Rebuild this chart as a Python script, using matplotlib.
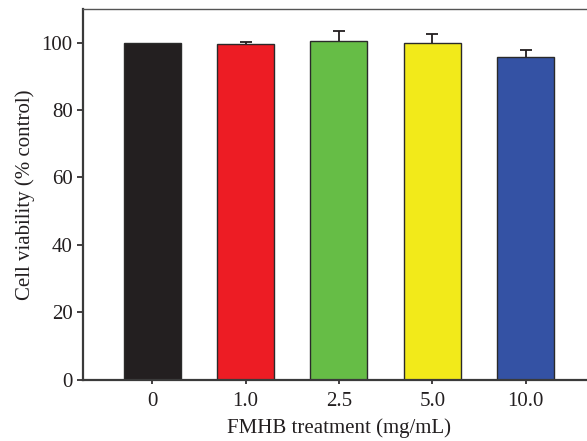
import matplotlib
matplotlib.use("Agg")
import matplotlib.pyplot as plt
import numpy as np

categories = ["0", "1.0", "2.5", "5.0", "10.0"]
viability = [100.0, 99.7, 100.5, 100.0, 95.8]
errors = [0.0, 0.5, 3.0, 2.4, 2.1]
colors = ["#231f20", "#ed1c24", "#66bd46", "#f2ea1a", "#3452a4"]

plt.rcParams["font.family"] = ["Liberation Serif", "DejaVu Serif"]

fig = plt.figure(figsize=(5.87, 4.41), dpi=100)
ax = fig.add_axes([0.1414, 0.139, 0.872, 0.841])

x = np.arange(len(categories))
ax.bar(x, viability, width=0.61, color=colors, edgecolor="#2a2a2a", linewidth=1.0, zorder=2)

# upper error bars only, skipping the control which has no spread
err = np.array(errors)
vals = np.array(viability)
has_err = err > 0
_, caps, _ = ax.errorbar(x[has_err], vals[has_err],
                         yerr=[np.zeros(has_err.sum()), err[has_err]], fmt="none",
                         ecolor="#231f20", elinewidth=1.3, capsize=4, capthick=1.3, zorder=3)
caps[0].set_visible(False)  # hide the zero-length lower caps

ax.set_xlim(-0.74, 4.74)
ax.set_ylim(0, 110)
ax.set_yticks([0, 20, 40, 60, 80, 100])
ax.set_xticks(x)
ax.set_xticklabels(categories)

ax.tick_params(axis="both", labelsize=15, colors="#231f20", direction="out", length=4, width=1.2)
ax.tick_params(axis="x", length=3, pad=6)

for side in ["left", "bottom"]:
    ax.spines[side].set_linewidth(1.6)
    ax.spines[side].set_color("#3a3a3a")
for side in ["top", "right"]:
    ax.spines[side].set_linewidth(1.0)
    ax.spines[side].set_color("#555555")

ax.set_xlabel("FMHB treatment (mg/mL)", fontsize=15, color="#231f20", labelpad=5)
ax.set_ylabel("Cell viability (% control)", fontsize=15, color="#231f20", labelpad=5)

fig.savefig("out.png", dpi=100)
